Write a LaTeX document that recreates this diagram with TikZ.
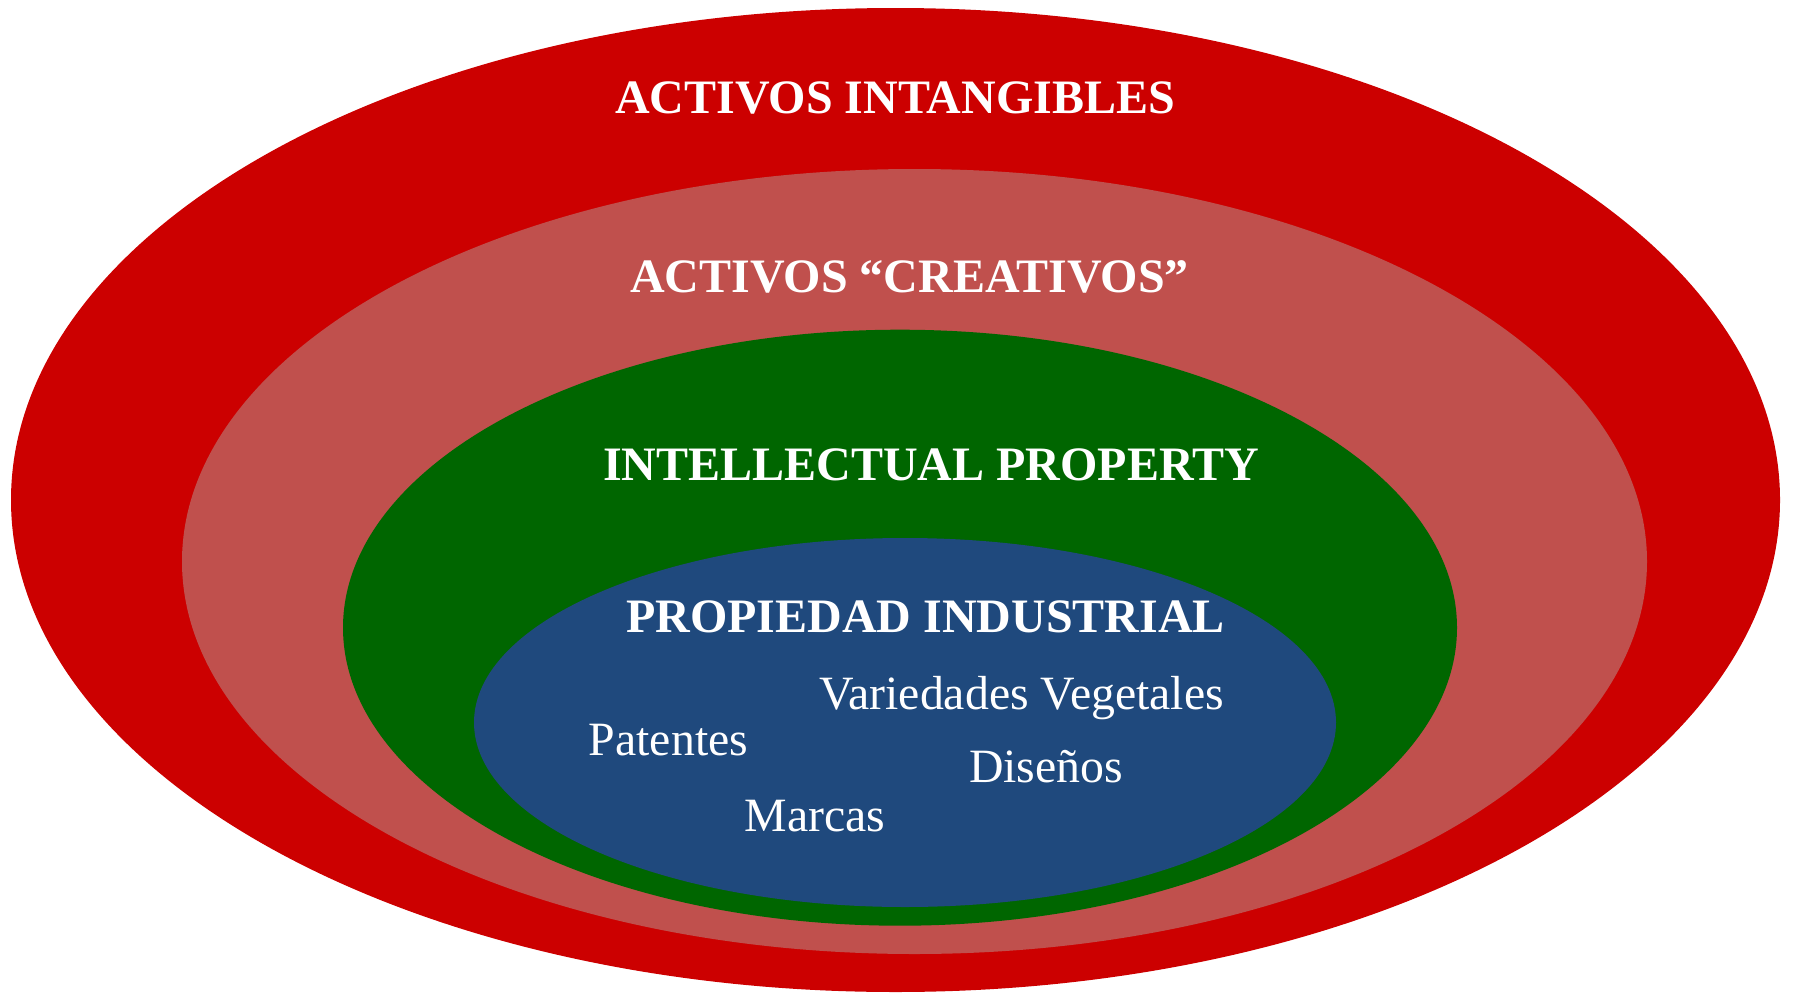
\documentclass[tikz,border=0pt]{standalone}
\usepackage{fontspec}
\setmainfont{Liberation Serif}
\definecolor{cRed}{HTML}{CC0000}
\definecolor{cPink}{HTML}{C0504D}
\definecolor{cGreen}{HTML}{006600}
\definecolor{cBlue}{HTML}{1F497D}
\tikzset{
  title/.style={text=white, inner sep=0pt, anchor=base, font=\fontsize{48}{56}\selectfont\bfseries},
  item/.style={text=white, inner sep=0pt, anchor=base, font=\fontsize{47.8}{56}\selectfont}
}
\begin{document}
\begin{tikzpicture}[x=1pt,y=-1pt]
\useasboundingbox (0,0) rectangle (1796,993);
\fill[cRed] (895.5,500) ellipse [x radius=884.5pt, y radius=492pt];
\fill[cPink] (914.5,561.5) ellipse [x radius=732.5pt, y radius=392.5pt];
\fill[cGreen] (900,627.7) ellipse [x radius=557pt, y radius=298pt];
\fill[cBlue] (905,722.5) ellipse [x radius=431pt, y radius=184.5pt];
\node[title] (t1) at (895,113.5) {ACTIVOS INTANGIBLES};
\node[title] (t2) at (909.5,292) {ACTIVOS “CREATIVOS”};
\node[title] (t3) at (931,480.7) {INTELLECTUAL PROPERTY};
\node[title] (t4) at (925.5,632.7) {PROPIEDAD INDUSTRIAL};
\node[item] (i1) at (1021.5,709.5) {Variedades Vegetales};
\node[item] (i2) at (668.5,755) {Patentes};
\node[item] (i3) at (1046,782.5) {Diseños};
\node[item] (i4) at (815,831) {Marcas};
\end{tikzpicture}
\end{document}
